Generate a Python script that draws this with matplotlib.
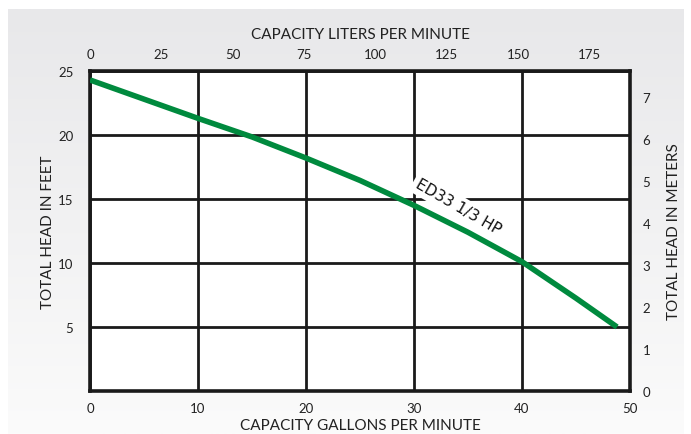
import numpy as np
import matplotlib
matplotlib.use("Agg")
import matplotlib.pyplot as plt
from matplotlib.colors import LinearSegmentedColormap

# ---- data ----
gpm = [0, 5, 10, 15, 20, 25, 30, 35, 40, 45, 48.8]
head_ft = [24.3, 22.8, 21.3, 19.85, 18.2, 16.45, 14.5, 12.4, 10.1, 7.25, 5.0]
x_ticks = [0, 10, 20, 30, 40, 50]
y_ticks = [5, 10, 15, 20, 25]
lpm_ticks = [0, 25, 50, 75, 100, 125, 150, 175]
m_ticks = [0, 1, 2, 3, 4, 5, 6, 7]
curve_label = "ED33 1/3 HP"

GAL2L = 3.785
FT2M = 0.3048

W, H = 691, 435
fig = plt.figure(figsize=(W / 100, H / 100), dpi=100)
fig.patch.set_facecolor("white")

# gradient background panel
bg = fig.add_axes([8 / W, 0, (684 - 8) / W, (H - 10) / H])
grad = np.linspace(0, 1, 256).reshape(-1, 1)
cmap = LinearSegmentedColormap.from_list("g", ["#e8e8ea", "#fbfbfb"])
bg.imshow(grad, aspect="auto", cmap=cmap, extent=[0, 1, 0, 1])
bg.set_axis_off()
bg.set_zorder(-10)

font = "Lato"
ax = fig.add_axes([90 / W, (H - 392) / H, 540 / W, 320 / H])
ax.set_facecolor("white")
ax.set_xlim(0, 50)
ax.set_ylim(0, 25)
ax.set_xticks(x_ticks)
ax.set_yticks(y_ticks)
ax.grid(True, color="#1a1a1a", linewidth=2)
ax.set_axisbelow(True)
for s in ax.spines.values():
    s.set_linewidth(2.6)
    s.set_color("#1a1a1a")
ax.tick_params(length=0, labelsize=9.5, colors="#222222", pad=8)
ax.tick_params(axis="y", pad=12)
for lab in ax.get_xticklabels() + ax.get_yticklabels():
    lab.set_fontfamily(font)
ax.set_xlabel("CAPACITY GALLONS PER MINUTE", fontsize=11, fontfamily=font,
              color="#222222", labelpad=3)
ax.set_ylabel("TOTAL HEAD IN FEET", fontsize=11, fontfamily=font,
              color="#222222", labelpad=2)

ax.plot(gpm, head_ft, color="#008a3e", linewidth=4, solid_capstyle="butt",
        solid_joinstyle="round", zorder=3)

ax.text(34.1, 14.4, curve_label, rotation=-30, ha="center", va="center",
        fontsize=11, family=["Liberation Sans Narrow", "DejaVu Sans"],
        color="#111111", zorder=4,
        bbox=dict(facecolor="white", edgecolor="none", pad=2.5))

top = ax.secondary_xaxis("top", functions=(lambda g: g * GAL2L, lambda l: l / GAL2L))
top.set_xticks(lpm_ticks)
top.tick_params(length=0, labelsize=9.5, colors="#222222", pad=8)
for lab in top.get_xticklabels():
    lab.set_fontfamily(font)
top.set_xlabel("CAPACITY LITERS PER MINUTE", fontsize=11, fontfamily=font,
               color="#222222", labelpad=7)
top.spines["top"].set_visible(False)

right = ax.secondary_yaxis("right", functions=(lambda f: f * FT2M, lambda m: m / FT2M))
right.set_yticks(m_ticks)
right.tick_params(length=0, labelsize=9.5, colors="#222222", pad=9)
for lab in right.get_yticklabels():
    lab.set_fontfamily(font)
right.set_ylabel("TOTAL HEAD IN METERS", fontsize=11, fontfamily=font,
                 color="#222222", labelpad=12)
right.spines["right"].set_visible(False)

fig.savefig("out.png", dpi=100)
